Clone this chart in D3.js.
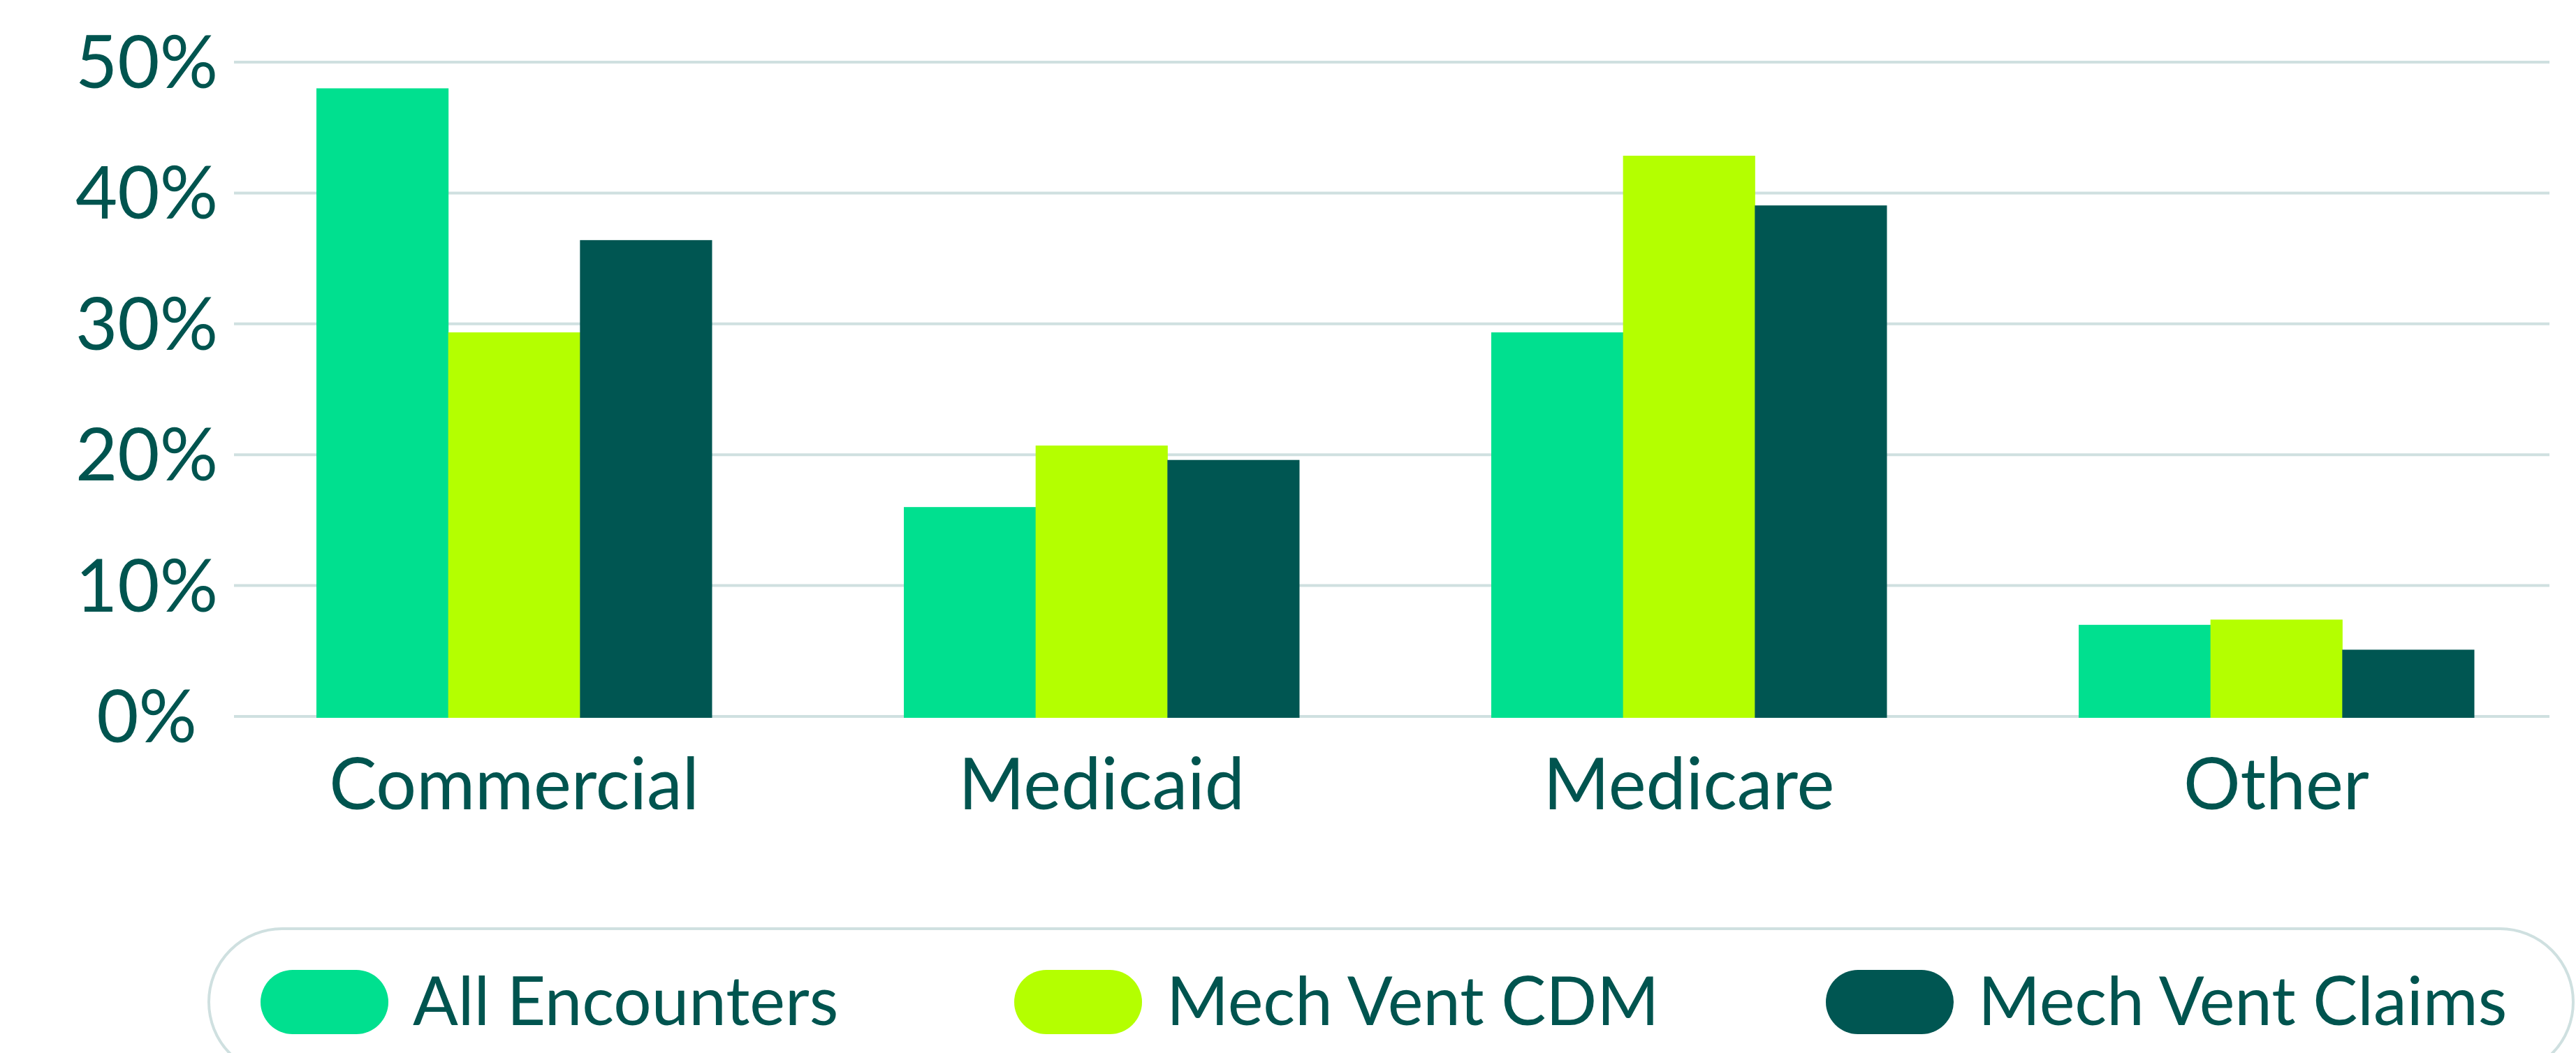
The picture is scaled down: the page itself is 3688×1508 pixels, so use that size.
<!DOCTYPE html>
<html>
<head>
<meta charset="utf-8">
<script src="https://cdn.jsdelivr.net/npm/d3@7"></script>
<style>
  html, body { margin: 0; padding: 0; background: #ffffff; }
  svg { display: block; }
  text { font-family: Lato, "Open Sans", sans-serif; }
</style>
</head>
<body>
<svg id="chart" width="3688" height="1508"></svg>
<script>
// ---- Data ----
const categories = ["Commercial", "Medicaid", "Medicare", "Other"];
const seriesNames = ["All Encounters", "Mech Vent CDM", "Mech Vent Claims"];
const allEncounters = [0.480, 0.160, 0.2935, 0.070];
const mechVentCDM   = [0.2935, 0.207, 0.4285, 0.074];
const mechVentClaims= [0.364, 0.196, 0.3905, 0.051];
const yTickValues = [0, 0.1, 0.2, 0.3, 0.4, 0.5];
const yTickLabels = ["0%", "10%", "20%", "30%", "40%", "50%"];

const seriesValues = [allEncounters, mechVentCDM, mechVentClaims];
const colors = ["#00e08f", "#b4ff00", "#005652"];
const textColor = "#00544f";
const gridColor = "#cfe0e0";

const svg = d3.select("#chart");

// ---- Scales ----
const step = 841;
const x0 = d3.scaleBand()
  .domain(categories)
  .range([315.5, 315.5 + step * categories.length])
  .paddingInner(0.327)
  .paddingOuter(0.1635);
const x1 = d3.scaleBand()
  .domain(seriesNames)
  .range([0, x0.bandwidth()])
  .padding(0);
const y = d3.scaleLinear().domain([0, 0.5]).range([1026, 89]);

// ---- Gridlines ----
const gridLeft = 335, gridRight = 3650;
svg.append("g").selectAll("line")
  .data(yTickValues)
  .join("line")
  .attr("x1", gridLeft).attr("x2", gridRight)
  .attr("y1", d => y(d)).attr("y2", d => y(d))
  .attr("stroke", gridColor).attr("stroke-width", 4);

// ---- Y labels (centered) ----
svg.append("g").selectAll("text")
  .data(yTickValues)
  .join("text")
  .attr("x", 210)
  .attr("y", d => y(d) + 37)
  .attr("text-anchor", "middle")
  .attr("font-size", 104)
  .attr("fill", textColor)
  .text((d, i) => yTickLabels[i]);

// ---- Bars ----
const groups = svg.append("g").selectAll("g")
  .data(categories)
  .join("g")
  .attr("transform", d => `translate(${x0(d)},0)`);

groups.selectAll("rect")
  .data((c, ci) => seriesNames.map((s, si) => ({ s, si, v: seriesValues[si][ci] })))
  .join("rect")
  .attr("x", d => x1(d.s))
  .attr("width", x1.bandwidth() + 0.5)
  .attr("y", d => y(d.v))
  .attr("height", d => y(0) - y(d.v) + 2)
  .attr("fill", d => colors[d.si]);

// ---- X labels ----
svg.append("g").selectAll("text")
  .data(categories)
  .join("text")
  .attr("x", d => x0(d) + x0.bandwidth() / 2)
  .attr("y", 1159)
  .attr("text-anchor", "middle")
  .attr("font-size", 102)
  .attr("fill", textColor)
  .text(d => d);

// ---- Legend ----
const legend = svg.append("g");
legend.append("rect")
  .attr("x", 299).attr("y", 1330)
  .attr("width", 3385).attr("height", 210)
  .attr("rx", 105).attr("ry", 105)
  .attr("fill", "none")
  .attr("stroke", gridColor).attr("stroke-width", 4);

const legendX = [373, 1452, 2614];
const items = legend.selectAll("g.item")
  .data(seriesNames)
  .join("g")
  .attr("class", "item")
  .attr("transform", (d, i) => `translate(${legendX[i]},1389)`);
items.append("rect")
  .attr("width", 183).attr("height", 92)
  .attr("rx", 46).attr("ry", 46)
  .attr("fill", (d, i) => colors[i]);
items.append("text")
  .attr("x", 218)
  .attr("y", 79)
  .attr("font-size", 96)
  .attr("fill", textColor)
  .text(d => d);
</script>
</body>
</html>
